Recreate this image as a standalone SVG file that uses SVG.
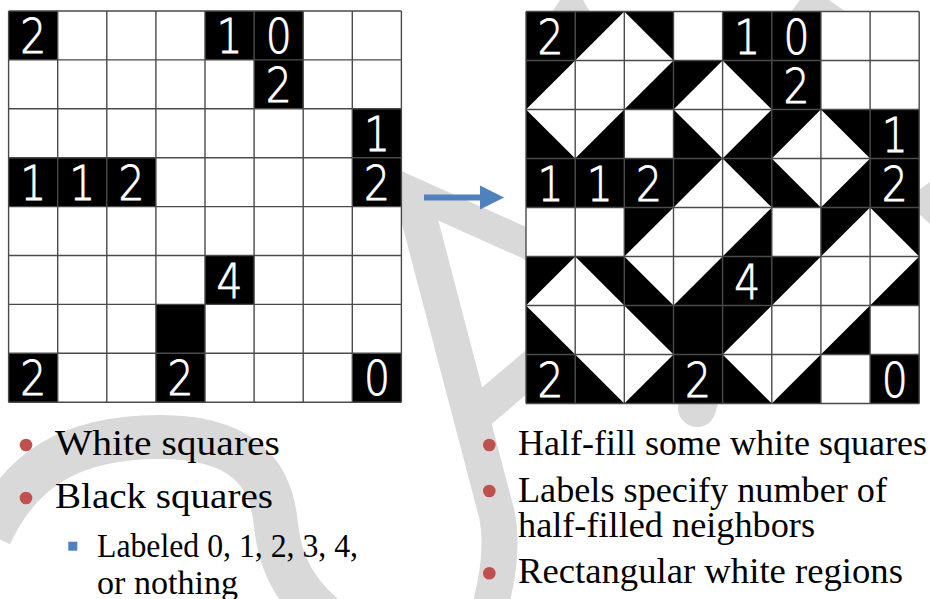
<svg xmlns="http://www.w3.org/2000/svg" width="930" height="599" viewBox="0 0 930 599">
<style>
.wm{fill:none;stroke:#d9d9d9}
.wmf{fill:#d9d9d9}
.cell{fill:#fff}
.blk{fill:#000}
.grid{fill:none;stroke:#4a4a4a;stroke-width:1.4}
.num{font-family:"DejaVu Sans","Liberation Sans",sans-serif;font-size:48px;font-weight:200;fill:#fff;stroke:#fff;stroke-width:0.9;text-anchor:middle}
.txt{font-family:"Liberation Serif","DejaVu Serif",serif;fill:#000}
.big{font-size:36px}
.small{font-size:33px}
.rb{fill:#c0504d}
.bb{fill:#4f81bd}
</style>
<rect width="930" height="599" fill="#fff"/>
<g id="watermark">
  <path class="wm" stroke-width="30" d="M360,169 L610,281"/>
  <path class="wm" stroke-width="36" d="M413,195 L497,515 Q505,555 488,615"/>
  <path class="wm" stroke-width="34" d="M470,420 L640,276"/>
  <path class="wm" stroke-width="38" stroke-linecap="round" d="M800,60 L697,408"/>
  <path class="wm" stroke-width="44" d="M-10,535 C20,470 70,437 160,437 C250,437 272,480 276,525 C280,565 296,595 335,625"/>
  <polygon class="wmf" points="560,0 583,0 590,12 552,12"/>
  <polygon class="wmf" points="800,0 829,0 846,12 791,12"/>
  <polygon class="wmf" points="919,190 930,182 930,224 919,214"/>
</g>
<g id="puzzle-left">
  <rect class="cell" x="8.6" y="11" width="392.8" height="391.2"/>
  <g class="blk">
    <rect x="8.6" y="11" width="49.1" height="48.9"/>
    <rect x="205" y="11" width="49.1" height="48.9"/>
    <rect x="254.1" y="11" width="49.1" height="48.9"/>
    <rect x="254.1" y="59.9" width="49.1" height="48.9"/>
    <rect x="352.3" y="108.8" width="49.1" height="48.9"/>
    <rect x="8.6" y="157.7" width="49.1" height="48.9"/>
    <rect x="57.7" y="157.7" width="49.1" height="48.9"/>
    <rect x="106.8" y="157.7" width="49.1" height="48.9"/>
    <rect x="352.3" y="157.7" width="49.1" height="48.9"/>
    <rect x="205" y="255.5" width="49.1" height="48.9"/>
    <rect x="155.9" y="304.4" width="49.1" height="48.9"/>
    <rect x="8.6" y="353.3" width="49.1" height="48.9"/>
    <rect x="155.9" y="353.3" width="49.1" height="48.9"/>
    <rect x="352.3" y="353.3" width="49.1" height="48.9"/>
  </g>
  <path class="grid" d="M8.6,11V402.2M57.7,11V402.2M106.8,11V402.2M155.9,11V402.2M205,11V402.2M254.1,11V402.2M303.2,11V402.2M352.3,11V402.2M401.4,11V402.2M8.6,11H401.4M8.6,59.9H401.4M8.6,108.8H401.4M8.6,157.7H401.4M8.6,206.6H401.4M8.6,255.5H401.4M8.6,304.4H401.4M8.6,353.3H401.4M8.6,402.2H401.4"/>
  <g class="num">
    <text x="33.2" y="53" textLength="26" lengthAdjust="spacingAndGlyphs">2</text>
    <text x="229.6" y="53" textLength="26" lengthAdjust="spacingAndGlyphs">1</text>
    <text x="278.7" y="53" textLength="26" lengthAdjust="spacingAndGlyphs">0</text>
    <text x="278.7" y="101.9" textLength="26" lengthAdjust="spacingAndGlyphs">2</text>
    <text x="376.9" y="150.8" textLength="26" lengthAdjust="spacingAndGlyphs">1</text>
    <text x="33.2" y="199.7" textLength="26" lengthAdjust="spacingAndGlyphs">1</text>
    <text x="82.3" y="199.7" textLength="26" lengthAdjust="spacingAndGlyphs">1</text>
    <text x="131.4" y="199.7" textLength="26" lengthAdjust="spacingAndGlyphs">2</text>
    <text x="376.9" y="199.7" textLength="26" lengthAdjust="spacingAndGlyphs">2</text>
    <text x="229.6" y="297.5" textLength="26" lengthAdjust="spacingAndGlyphs">4</text>
    <text x="33.2" y="395.3" textLength="26" lengthAdjust="spacingAndGlyphs">2</text>
    <text x="180.5" y="395.3" textLength="26" lengthAdjust="spacingAndGlyphs">2</text>
    <text x="376.9" y="395.3" textLength="26" lengthAdjust="spacingAndGlyphs">0</text>
  </g>
</g>
<g id="puzzle-right">
  <rect class="cell" x="526" y="11.5" width="393.2" height="392"/>
  <g class="blk">
    <rect x="526" y="11.5" width="49.2" height="49"/>
    <rect x="722.6" y="11.5" width="49.2" height="49"/>
    <rect x="771.8" y="11.5" width="49.2" height="49"/>
    <rect x="771.8" y="60.5" width="49.2" height="49"/>
    <rect x="870.1" y="109.5" width="49.2" height="49"/>
    <rect x="526" y="158.5" width="49.2" height="49"/>
    <rect x="575.2" y="158.5" width="49.2" height="49"/>
    <rect x="624.3" y="158.5" width="49.2" height="49"/>
    <rect x="870.1" y="158.5" width="49.2" height="49"/>
    <rect x="722.6" y="256.5" width="49.2" height="49"/>
    <rect x="673.5" y="305.5" width="49.2" height="49"/>
    <rect x="526" y="354.5" width="49.2" height="49"/>
    <rect x="673.5" y="354.5" width="49.2" height="49"/>
    <rect x="870.1" y="354.5" width="49.2" height="49"/>
    <polygon points="575.2,11.5 624.3,11.5 575.2,60.5"/>
    <polygon points="624.3,11.5 673.5,11.5 673.5,60.5"/>
    <polygon points="526,60.5 575.2,60.5 526,109.5"/>
    <polygon points="673.5,60.5 673.5,109.5 624.3,109.5"/>
    <polygon points="673.5,60.5 722.6,60.5 673.5,109.5"/>
    <polygon points="722.6,60.5 771.8,60.5 771.8,109.5"/>
    <polygon points="526,109.5 526,158.5 575.2,158.5"/>
    <polygon points="624.3,109.5 624.3,158.5 575.2,158.5"/>
    <polygon points="673.5,109.5 673.5,158.5 722.6,158.5"/>
    <polygon points="771.8,109.5 771.8,158.5 722.6,158.5"/>
    <polygon points="771.8,109.5 820.9,109.5 771.8,158.5"/>
    <polygon points="820.9,109.5 870.1,109.5 870.1,158.5"/>
    <polygon points="673.5,158.5 722.6,158.5 673.5,207.5"/>
    <polygon points="722.6,158.5 771.8,158.5 771.8,207.5"/>
    <polygon points="771.8,158.5 771.8,207.5 820.9,207.5"/>
    <polygon points="870.1,158.5 870.1,207.5 820.9,207.5"/>
    <polygon points="624.3,207.5 673.5,207.5 624.3,256.5"/>
    <polygon points="771.8,207.5 771.8,256.5 722.6,256.5"/>
    <polygon points="820.9,207.5 870.1,207.5 820.9,256.5"/>
    <polygon points="870.1,207.5 919.2,207.5 919.2,256.5"/>
    <polygon points="526,256.5 575.2,256.5 526,305.5"/>
    <polygon points="575.2,256.5 624.3,256.5 624.3,305.5"/>
    <polygon points="624.3,256.5 624.3,305.5 673.5,305.5"/>
    <polygon points="722.6,256.5 722.6,305.5 673.5,305.5"/>
    <polygon points="771.8,256.5 820.9,256.5 771.8,305.5"/>
    <polygon points="919.2,256.5 919.2,305.5 870.1,305.5"/>
    <polygon points="526,305.5 526,354.5 575.2,354.5"/>
    <polygon points="624.3,305.5 673.5,305.5 673.5,354.5"/>
    <polygon points="722.6,305.5 771.8,305.5 722.6,354.5"/>
    <polygon points="870.1,305.5 870.1,354.5 820.9,354.5"/>
    <polygon points="575.2,354.5 575.2,403.5 624.3,403.5"/>
    <polygon points="673.5,354.5 673.5,403.5 624.3,403.5"/>
    <polygon points="722.6,354.5 722.6,403.5 771.8,403.5"/>
    <polygon points="820.9,354.5 820.9,403.5 771.8,403.5"/>
  </g>
  <path class="grid" d="M526,11.5V403.5M575.2,11.5V403.5M624.3,11.5V403.5M673.5,11.5V403.5M722.6,11.5V403.5M771.8,11.5V403.5M820.9,11.5V403.5M870.1,11.5V403.5M919.2,11.5V403.5M526,11.5H919.2M526,60.5H919.2M526,109.5H919.2M526,158.5H919.2M526,207.5H919.2M526,256.5H919.2M526,305.5H919.2M526,354.5H919.2M526,403.5H919.2"/>
  <g class="num">
    <text x="550.6" y="53.5" textLength="26" lengthAdjust="spacingAndGlyphs">2</text>
    <text x="747.2" y="53.5" textLength="26" lengthAdjust="spacingAndGlyphs">1</text>
    <text x="796.4" y="53.5" textLength="26" lengthAdjust="spacingAndGlyphs">0</text>
    <text x="796.4" y="102.5" textLength="26" lengthAdjust="spacingAndGlyphs">2</text>
    <text x="894.7" y="151.5" textLength="26" lengthAdjust="spacingAndGlyphs">1</text>
    <text x="550.6" y="200.5" textLength="26" lengthAdjust="spacingAndGlyphs">1</text>
    <text x="599.8" y="200.5" textLength="26" lengthAdjust="spacingAndGlyphs">1</text>
    <text x="648.9" y="200.5" textLength="26" lengthAdjust="spacingAndGlyphs">2</text>
    <text x="894.7" y="200.5" textLength="26" lengthAdjust="spacingAndGlyphs">2</text>
    <text x="747.2" y="298.5" textLength="26" lengthAdjust="spacingAndGlyphs">4</text>
    <text x="550.6" y="396.5" textLength="26" lengthAdjust="spacingAndGlyphs">2</text>
    <text x="698.1" y="396.5" textLength="26" lengthAdjust="spacingAndGlyphs">2</text>
    <text x="894.7" y="396.5" textLength="26" lengthAdjust="spacingAndGlyphs">0</text>
  </g>
</g>
<g id="connectors">
  <line x1="424" y1="197.5" x2="482" y2="197.5" stroke="#4f81bd" stroke-width="6"/>
  <polygon points="480,185.5 504,197.5 480,209.5" fill="#4f81bd"/>
</g>
<g id="notes-left" class="txt">
  <circle class="rb" cx="26" cy="445" r="6.3"/>
  <text class="big" x="55" y="455" textLength="225" lengthAdjust="spacingAndGlyphs">White squares</text>
  <circle class="rb" cx="26" cy="498" r="6.3"/>
  <text class="big" x="55" y="508" textLength="218" lengthAdjust="spacingAndGlyphs">Black squares</text>
  <rect class="bb" x="68.3" y="541.7" width="9" height="9"/>
  <text class="small" x="97" y="557" textLength="261" lengthAdjust="spacingAndGlyphs">Labeled 0, 1, 2, 3, 4,</text>
  <text class="small" x="97" y="594" textLength="141" lengthAdjust="spacingAndGlyphs">or nothing</text>
</g>
<g id="notes-right" class="txt">
  <circle class="rb" cx="489.3" cy="445" r="6.3"/>
  <text class="big" x="518" y="455" textLength="409" lengthAdjust="spacingAndGlyphs">Half-fill some white squares</text>
  <circle class="rb" cx="489.3" cy="491" r="6.3"/>
  <text class="big" x="518" y="502" textLength="369" lengthAdjust="spacingAndGlyphs">Labels specify number of</text>
  <text class="big" x="518" y="537" textLength="297" lengthAdjust="spacingAndGlyphs">half-filled neighbors</text>
  <circle class="rb" cx="489.3" cy="573.3" r="6.3"/>
  <text class="big" x="518" y="583" textLength="385" lengthAdjust="spacingAndGlyphs">Rectangular white regions</text>
</g>
</svg>
